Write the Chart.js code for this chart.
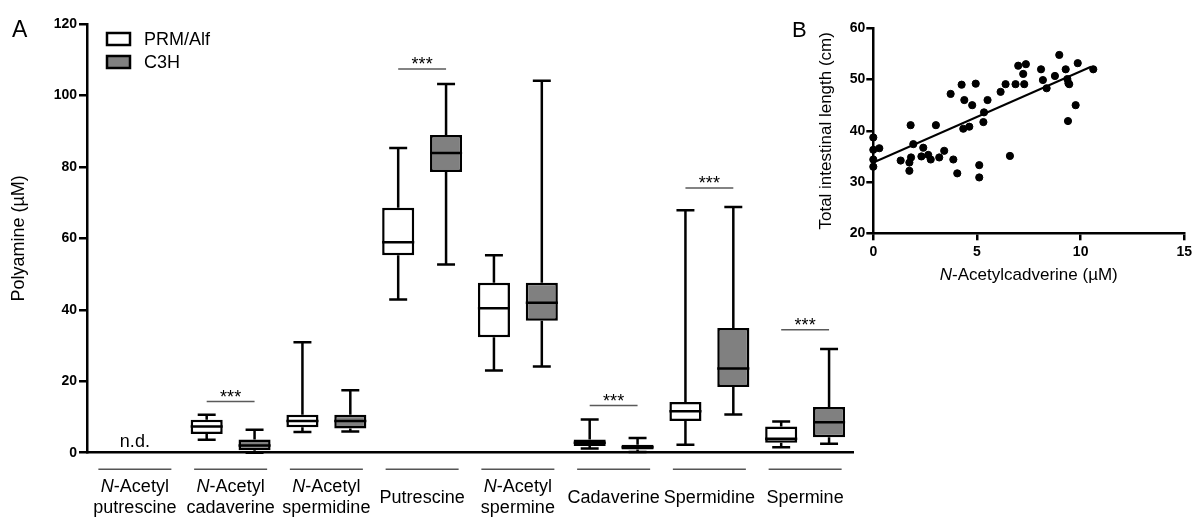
<!DOCTYPE html>
<html>
<head>
<meta charset="utf-8">
<script src="https://cdn.jsdelivr.net/npm/chart.js@4.4.1/dist/chart.umd.min.js"></script>
<style>
  html, body { margin: 0; padding: 0; background: #fff; }
  body { width: 1196px; height: 518px; position: relative; overflow: hidden; }
  #boxChart { position: absolute; left: 0; top: 0; }
  #scatterChart { position: absolute; left: 780px; top: 0; }
</style>
</head>
<body>
<canvas id="boxChart" width="870" height="518"></canvas>
<canvas id="scatterChart" width="416" height="300"></canvas>
<script>
const FONT = "'Liberation Sans', Arial, sans-serif";

// Panel A: polyamine concentrations, one box per strain
const categories = [
  ['N-Acetyl', 'putrescine'], ['N-Acetyl', 'cadaverine'], ['N-Acetyl', 'spermidine'],
  ['Putrescine'], ['N-Acetyl', 'spermine'], ['Cadaverine'], ['Spermidine'], ['Spermine']
];
const prmMin = [null, 3.6, 5.8, 42.9, 23.0, 1.2, 2.2, 1.5];
const prmQ1  = [null, 5.2, 7.1, 55.3, 32.3, 1.9, 8.9, 2.8];
const prmMed = [null, 7.3, 8.9, 58.9, 40.4, 2.8, 11.6, 3.9];
const prmQ3  = [null, 9.2, 10.6, 68.6, 47.6, 3.7, 14.2, 7.3];
const prmMax = [null, 10.6, 30.9, 85.3, 55.3, 9.3, 67.9, 8.7];
const c3hMin = [null, 0.0, 5.9, 52.7, 24.1, 0.2, 10.7, 2.5];
const c3hQ1  = [null, 0.7, 6.8, 78.6, 36.9, 0.9, 18.4, 4.3];
const c3hMed = [null, 2.0, 8.9, 83.9, 42.0, 1.5, 23.6, 8.5];
const c3hQ3  = [null, 3.7, 10.6, 88.9, 47.6, 2.2, 34.9, 12.8];
const c3hMax = [null, 6.4, 17.5, 103.2, 104.1, 4.1, 68.8, 29.0];
const yTicks = [0, 20, 40, 60, 80, 100, 120];

// significance bars (category index, height of bar in µM)
const sigIndex = [1, 3, 5, 6, 7];
const sigLevel = [14.3, 107.4, 13.2, 74.1, 34.4];
const notDetected = [0];

// Panel B: N-acetylcadaverine vs total intestinal length
const acetylCadaverine = [0, 0, 0, 0, 0.29, 1.32, 1.74, 1.74, 1.80, 1.82, 1.93, 2.32, 2.41, 2.65, 2.77,
  3.02, 3.18, 3.42, 3.73, 3.86, 4.05, 4.26, 4.34, 4.39, 4.63, 4.77, 4.94, 5.11, 5.11, 5.31, 5.34, 5.51,
  6.14, 6.38, 6.59, 6.86, 6.99, 7.23, 7.28, 7.36, 8.09, 8.18, 8.36, 8.76, 8.97, 9.28, 9.36, 9.41, 9.39,
  9.45, 9.76, 9.86, 10.61];
const intestinalLength = [38.7, 36.3, 34.4, 33.0, 36.6, 34.2, 33.8, 32.2, 41.1, 34.8, 37.4, 35.0, 36.7, 35.3, 34.4,
  41.1, 34.8, 36.1, 47.2, 34.4, 31.7, 49.0, 40.4, 46.0, 40.8, 45.0, 49.2, 33.3, 30.9, 41.7, 43.6, 46.0,
  47.6, 49.1, 35.1, 49.1, 52.7, 51.1, 49.1, 53.0, 52.0, 49.9, 48.3, 50.7, 54.8, 52.0, 50.1, 49.3, 41.9,
  49.1, 45.0, 53.2, 52.0];
const fitX = [0, 10.5];
const fitY = [33.8, 52.5];

// draws text pieces side by side, centred on x; italic flag per piece
function drawRich(ctx, parts, x, y, size) {
  let total = 0;
  const widths = parts.map(([text, italic]) => {
    ctx.font = (italic ? 'italic ' : '') + size + 'px ' + FONT;
    const w = ctx.measureText(text).width;
    total += w;
    return w;
  });
  let cx = x - total / 2;
  ctx.textAlign = 'left';
  parts.forEach(([text, italic], i) => {
    ctx.font = (italic ? 'italic ' : '') + size + 'px ' + FONT;
    ctx.fillText(text, cx, y);
    cx += widths[i];
  });
}

function italicN(line) {
  return line.startsWith('N-') ? [['N', true], [line.slice(1), false]] : [[line, false]];
}

const boxWhiskers = {
  id: 'boxWhiskers',
  afterDatasetsDraw(chart) {
    const ctx = chart.ctx;
    const y = chart.scales.y;
    const stats = [
      { min: prmMin, med: prmMed, max: prmMax },
      { min: c3hMin, med: c3hMed, max: c3hMax }
    ];
    ctx.save();
    ctx.strokeStyle = '#000';
    ctx.lineWidth = 2.5;
    stats.forEach((s, di) => {
      const raw = chart.data.datasets[di].data;
      chart.getDatasetMeta(di).data.forEach((bar, i) => {
        if (s.med[i] == null) return;
        const half = bar.width / 2;
        const cap = bar.width * 0.28;
        const yQ1 = y.getPixelForValue(raw[i][0]);
        const yQ3 = y.getPixelForValue(raw[i][1]);
        const yMin = y.getPixelForValue(s.min[i]);
        const yMax = y.getPixelForValue(s.max[i]);
        const yMed = y.getPixelForValue(s.med[i]);
        ctx.beginPath();
        ctx.moveTo(bar.x, yQ3); ctx.lineTo(bar.x, yMax);
        ctx.moveTo(bar.x - cap, yMax); ctx.lineTo(bar.x + cap, yMax);
        ctx.moveTo(bar.x, yQ1); ctx.lineTo(bar.x, yMin);
        ctx.moveTo(bar.x - cap, yMin); ctx.lineTo(bar.x + cap, yMin);
        ctx.moveTo(bar.x - half, yMed); ctx.lineTo(bar.x + half, yMed);
        ctx.stroke();
      });
    });
    ctx.restore();
  }
};

const boxDecor = {
  id: 'boxDecor',
  afterDraw(chart) {
    const ctx = chart.ctx;
    const { x, y } = chart.scales;
    const area = chart.chartArea;
    const prmBars = chart.getDatasetMeta(0).data;
    const c3hBars = chart.getDatasetMeta(1).data;
    ctx.save();
    ctx.fillStyle = '#000';

    // significance bars with stars
    sigIndex.forEach((ci, k) => {
      const ly = y.getPixelForValue(sigLevel[k]);
      const x0 = prmBars[ci].x, x1 = c3hBars[ci].x;
      ctx.strokeStyle = '#5a5a5a';
      ctx.lineWidth = 1.5;
      ctx.beginPath();
      ctx.moveTo(x0, ly); ctx.lineTo(x1, ly);
      ctx.stroke();
      ctx.font = '18px ' + FONT;
      ctx.textAlign = 'center';
      ctx.textBaseline = 'alphabetic';
      ctx.fillText('***', (x0 + x1) / 2, ly + 1);
    });

    // n.d. marker
    notDetected.forEach(ci => {
      ctx.font = '18px ' + FONT;
      ctx.textAlign = 'center';
      ctx.textBaseline = 'alphabetic';
      ctx.fillText('n.d.', x.getPixelForValue(ci), area.bottom - 6);
    });

    // group rules and category names under the axis
    ctx.textBaseline = 'middle';
    categories.forEach((lines, ci) => {
      const cx = x.getPixelForValue(ci);
      ctx.strokeStyle = '#555';
      ctx.lineWidth = 1.5;
      ctx.beginPath();
      ctx.moveTo(cx - 36.5, area.bottom + 16.5);
      ctx.lineTo(cx + 36.5, area.bottom + 16.5);
      ctx.stroke();
      const mid = area.bottom + 45;
      lines.forEach((line, li) => {
        const ly = mid + (li - (lines.length - 1) / 2) * 21;
        drawRich(ctx, italicN(line), cx, ly, 18);
      });
    });

    // legend
    const legend = [['PRM/Alf', '#ffffff'], ['C3H', '#808080']];
    legend.forEach(([name, fill], k) => {
      const top = 33 + k * 23;
      ctx.fillStyle = fill;
      ctx.fillRect(107, top, 23, 12);
      ctx.strokeStyle = '#000';
      ctx.lineWidth = 2.5;
      ctx.strokeRect(107, top, 23, 12);
      ctx.fillStyle = '#000';
      ctx.font = '18px ' + FONT;
      ctx.textAlign = 'left';
      ctx.textBaseline = 'middle';
      ctx.fillText(name, 144, top + 7);
    });

    // panel letter and axis title
    ctx.font = '23px ' + FONT;
    ctx.textAlign = 'left';
    ctx.textBaseline = 'alphabetic';
    ctx.fillText('A', 12, 37);
    ctx.translate(19, (area.top + area.bottom) / 2);
    ctx.rotate(-Math.PI / 2);
    ctx.font = '18px ' + FONT;
    ctx.textAlign = 'center';
    ctx.textBaseline = 'middle';
    ctx.fillText('Polyamine (µM)', 0, 0);
    ctx.restore();
  }
};

new Chart(document.getElementById('boxChart'), {
  type: 'bar',
  data: {
    labels: categories,
    datasets: [
      {
        label: 'PRM/Alf',
        data: prmQ1.map((v, i) => v == null ? null : [v, prmQ3[i]]),
        backgroundColor: '#ffffff',
        borderColor: '#000',
        borderWidth: 2.5,
        borderSkipped: false,
        categoryPercentage: 1,
        barPercentage: 0.67
      },
      {
        label: 'C3H',
        data: c3hQ1.map((v, i) => v == null ? null : [v, c3hQ3[i]]),
        backgroundColor: '#808080',
        borderColor: '#000',
        borderWidth: 2.5,
        borderSkipped: false,
        categoryPercentage: 1,
        barPercentage: 0.67
      }
    ]
  },
  options: {
    responsive: false,
    animation: false,
    layout: { padding: { left: 0, top: 24, right: 17, bottom: 0 } },
    plugins: { legend: { display: false }, tooltip: { enabled: false } },
    scales: {
      x: {
        grid: { display: false },
        border: { display: true, color: '#000', width: 2.5 },
        ticks: { display: false },
        afterFit: s => { s.height = 65.3; }
      },
      y: {
        min: 0,
        max: 120,
        afterBuildTicks: s => { s.ticks = yTicks.map(v => ({ value: v })); },
        ticks: { color: '#000', padding: 2, font: { family: FONT, size: 14, weight: 'bold' } },
        grid: { display: true, drawOnChartArea: false, drawTicks: true, tickLength: 8, color: '#000', lineWidth: 2.5 },
        border: { display: true, color: '#000', width: 2.5 },
        afterFit: s => { s.width = 87; }
      }
    }
  },
  plugins: [boxWhiskers, boxDecor]
});

const scatterDecor = {
  id: 'scatterDecor',
  afterDraw(chart) {
    const ctx = chart.ctx;
    const area = chart.chartArea;
    ctx.save();
    ctx.fillStyle = '#000';
    ctx.font = '22px ' + FONT;
    ctx.textAlign = 'left';
    ctx.textBaseline = 'alphabetic';
    ctx.fillText('B', 12, 37);
    ctx.textBaseline = 'alphabetic';
    drawRich(ctx, [['N', true], ['-Acetylcadverine (µM)', false]], (area.left + area.right) / 2, area.bottom + 47, 17);
    ctx.translate(46, (area.top + area.bottom) / 2);
    ctx.rotate(-Math.PI / 2);
    ctx.font = '17px ' + FONT;
    ctx.textAlign = 'center';
    ctx.textBaseline = 'middle';
    ctx.fillText('Total intestinal length (cm)', 0, 0);
    ctx.restore();
  }
};

new Chart(document.getElementById('scatterChart'), {
  type: 'scatter',
  data: {
    datasets: [
      {
        data: acetylCadaverine.map((v, i) => ({ x: v, y: intestinalLength[i] })),
        backgroundColor: '#000',
        borderColor: '#000',
        pointRadius: 3.6,
        clip: false
      },
      {
        type: 'line',
        data: fitX.map((v, i) => ({ x: v, y: fitY[i] })),
        borderColor: '#000',
        borderWidth: 2,
        pointRadius: 0,
        fill: false
      }
    ]
  },
  options: {
    responsive: false,
    animation: false,
    layout: { padding: { left: 0, top: 28.3, right: 11.7, bottom: 0 } },
    plugins: { legend: { display: false }, tooltip: { enabled: false } },
    scales: {
      x: {
        type: 'linear',
        min: 0,
        max: 15,
        ticks: { stepSize: 5, color: '#000', padding: 3, font: { family: FONT, size: 14, weight: 'bold' } },
        grid: { display: true, drawOnChartArea: false, drawTicks: true, tickLength: 7, color: '#000', lineWidth: 2.5 },
        border: { display: true, color: '#000', width: 2.5 },
        afterFit: s => { s.height = 66.7; }
      },
      y: {
        min: 20,
        max: 60,
        ticks: { stepSize: 10, color: '#000', padding: 1, font: { family: FONT, size: 14, weight: 'bold' } },
        grid: { display: true, drawOnChartArea: false, drawTicks: true, tickLength: 7, color: '#000', lineWidth: 2.5 },
        border: { display: true, color: '#000', width: 2.5 },
        afterFit: s => { s.width = 93.3; }
      }
    }
  },
  plugins: [scatterDecor]
});
</script>
</body>
</html>
